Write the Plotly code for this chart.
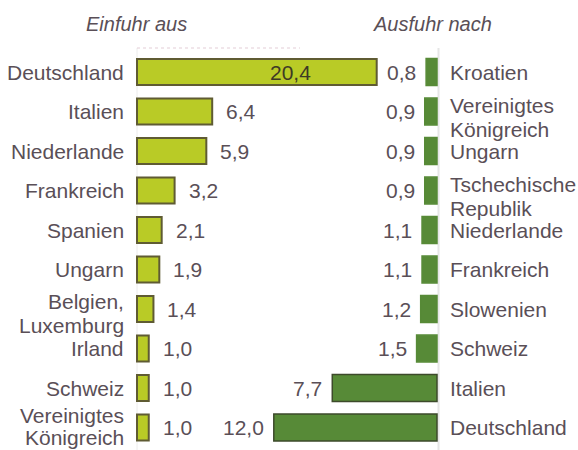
import plotly.graph_objects as go

# Data
import_countries = ["Deutschland", "Italien", "Niederlande", "Frankreich", "Spanien",
                    "Ungarn", "Belgien,<br>Luxemburg", "Irland", "Schweiz", "Vereinigtes<br>Königreich"]
import_values = [20.4, 6.4, 5.9, 3.2, 2.1, 1.9, 1.4, 1.0, 1.0, 1.0]

export_countries = ["Kroatien", "Vereinigtes<br>Königreich", "Ungarn", "Tschechische<br>Republik",
                    "Niederlande", "Frankreich", "Slowenien", "Schweiz", "Italien", "Deutschland"]
export_values = [0.8, 0.9, 0.9, 0.9, 1.1, 1.1, 1.2, 1.5, 7.7, 12.0]

title_left = "Einfuhr aus"
title_right = "Ausfuhr nach"

def fmt(v):
    return f"{v:.1f}".replace(".", ",")

W, H = 578, 450
LEFT0, LSCALE = 137, 11.75
RIGHT0, RSCALE = 437, 13.6
ROW0, ROWSTEP = 72, 39.5

TXT = "#5a4f57"
FONT = "Liberation Sans"
FS = 21

rows = list(range(len(import_values)))

fig = go.Figure()
fig.add_trace(go.Bar(
    x=import_values, y=rows, orientation="h", xaxis="x", yaxis="y",
    width=0.66,
    marker=dict(color="#b9cb26", line=dict(color="#5f5b33", width=2)),
    hoverinfo="skip", showlegend=False))
fig.add_trace(go.Bar(
    x=export_values, y=rows, orientation="h", xaxis="x2", yaxis="y",
    width=0.68,
    marker=dict(color="#578a37",
                line=dict(color=["#578a37" if v < 5 else "#3d4a2b" for v in export_values], width=1.5)),
    hoverinfo="skip", showlegend=False))

ann = []

def add_label(text, i, xref, anchor, xshift, center_shift, spacing):
    lines = text.split("<br>")
    n = len(lines)
    for k, ln in enumerate(lines):
        off = (k - (n - 1) / 2) * spacing + (center_shift if n > 1 else 0)
        ann.append(dict(x=0, y=i, xref=xref, yref="y", text=ln, showarrow=False,
                        xanchor=anchor, yanchor="middle", xshift=xshift, yshift=-off,
                        font=dict(family=FONT, size=FS, color=TXT)))

left_shift = {6: 4.5, 9: -1}
for i, (c, v) in enumerate(zip(import_countries, import_values)):
    add_label(c, i, "x", "right", -11, left_shift.get(i, 0), 24 if i != 9 else 22)
    if i == 0:
        ann.append(dict(x=v, y=i, xref="x", yref="y", text=fmt(v), showarrow=False,
                        xanchor="right", yanchor="middle", xshift=-64,
                        font=dict(family=FONT, size=FS, color="#3e3a25")))
    else:
        ann.append(dict(x=v, y=i, xref="x", yref="y", text=fmt(v), showarrow=False,
                        xanchor="left", yanchor="middle", xshift=12,
                        font=dict(family=FONT, size=FS, color=TXT)))

for i, (c, v) in enumerate(zip(export_countries, export_values)):
    add_label(c, i, "x2", "left", 11, 6, 24)
    ann.append(dict(x=v, y=i, xref="x2", yref="y", text=fmt(v), showarrow=False,
                    xanchor="right", yanchor="middle", xshift=-8,
                    font=dict(family=FONT, size=FS, color=TXT)))

ann.append(dict(x=136 / W, y=1 - 24 / H, xref="paper", yref="paper", text=f"<i>{title_left}</i>",
                showarrow=False, xanchor="center", yanchor="middle",
                font=dict(family=FONT, size=20, color=TXT)))
ann.append(dict(x=432 / W, y=1 - 24 / H, xref="paper", yref="paper", text=f"<i>{title_right}</i>",
                showarrow=False, xanchor="center", yanchor="middle",
                font=dict(family=FONT, size=20, color=TXT)))

shapes = [
    dict(type="line", xref="paper", yref="paper", x0=LEFT0 / W, x1=300 / W,
         y0=1 - 48 / H, y1=1 - 48 / H, line=dict(color="#e3cdd6", width=1, dash="dot")),
    dict(type="line", xref="paper", yref="paper", x0=LEFT0 / W, x1=LEFT0 / W,
         y0=0, y1=1 - 48 / H, line=dict(color="#ececec", width=1), layer="below"),
    dict(type="line", xref="paper", yref="paper", x0=(RIGHT0 + 1.5) / W, x1=(RIGHT0 + 1.5) / W,
         y0=0, y1=1 - 48 / H, line=dict(color="#e6e6e6", width=2), layer="below"),
]

fig.update_layout(
    width=W, height=H,
    margin=dict(l=0, r=0, t=0, b=0),
    paper_bgcolor="white", plot_bgcolor="white",
    barmode="overlay",
    xaxis=dict(domain=[0, 1], range=[-LEFT0 / LSCALE, (W - LEFT0) / LSCALE],
               visible=False, fixedrange=True),
    xaxis2=dict(domain=[0, 1], overlaying="x", range=[RIGHT0 / RSCALE, (RIGHT0 - W) / RSCALE],
                visible=False, fixedrange=True),
    yaxis=dict(domain=[0, 1], range=[(H - ROW0) / ROWSTEP, -ROW0 / ROWSTEP],
               visible=False, fixedrange=True),
    annotations=ann,
    shapes=shapes,
)

fig.write_html("out.html", config={"displayModeBar": False},
               post_script="document.body.style.margin='0';document.body.style.overflow='hidden';")
